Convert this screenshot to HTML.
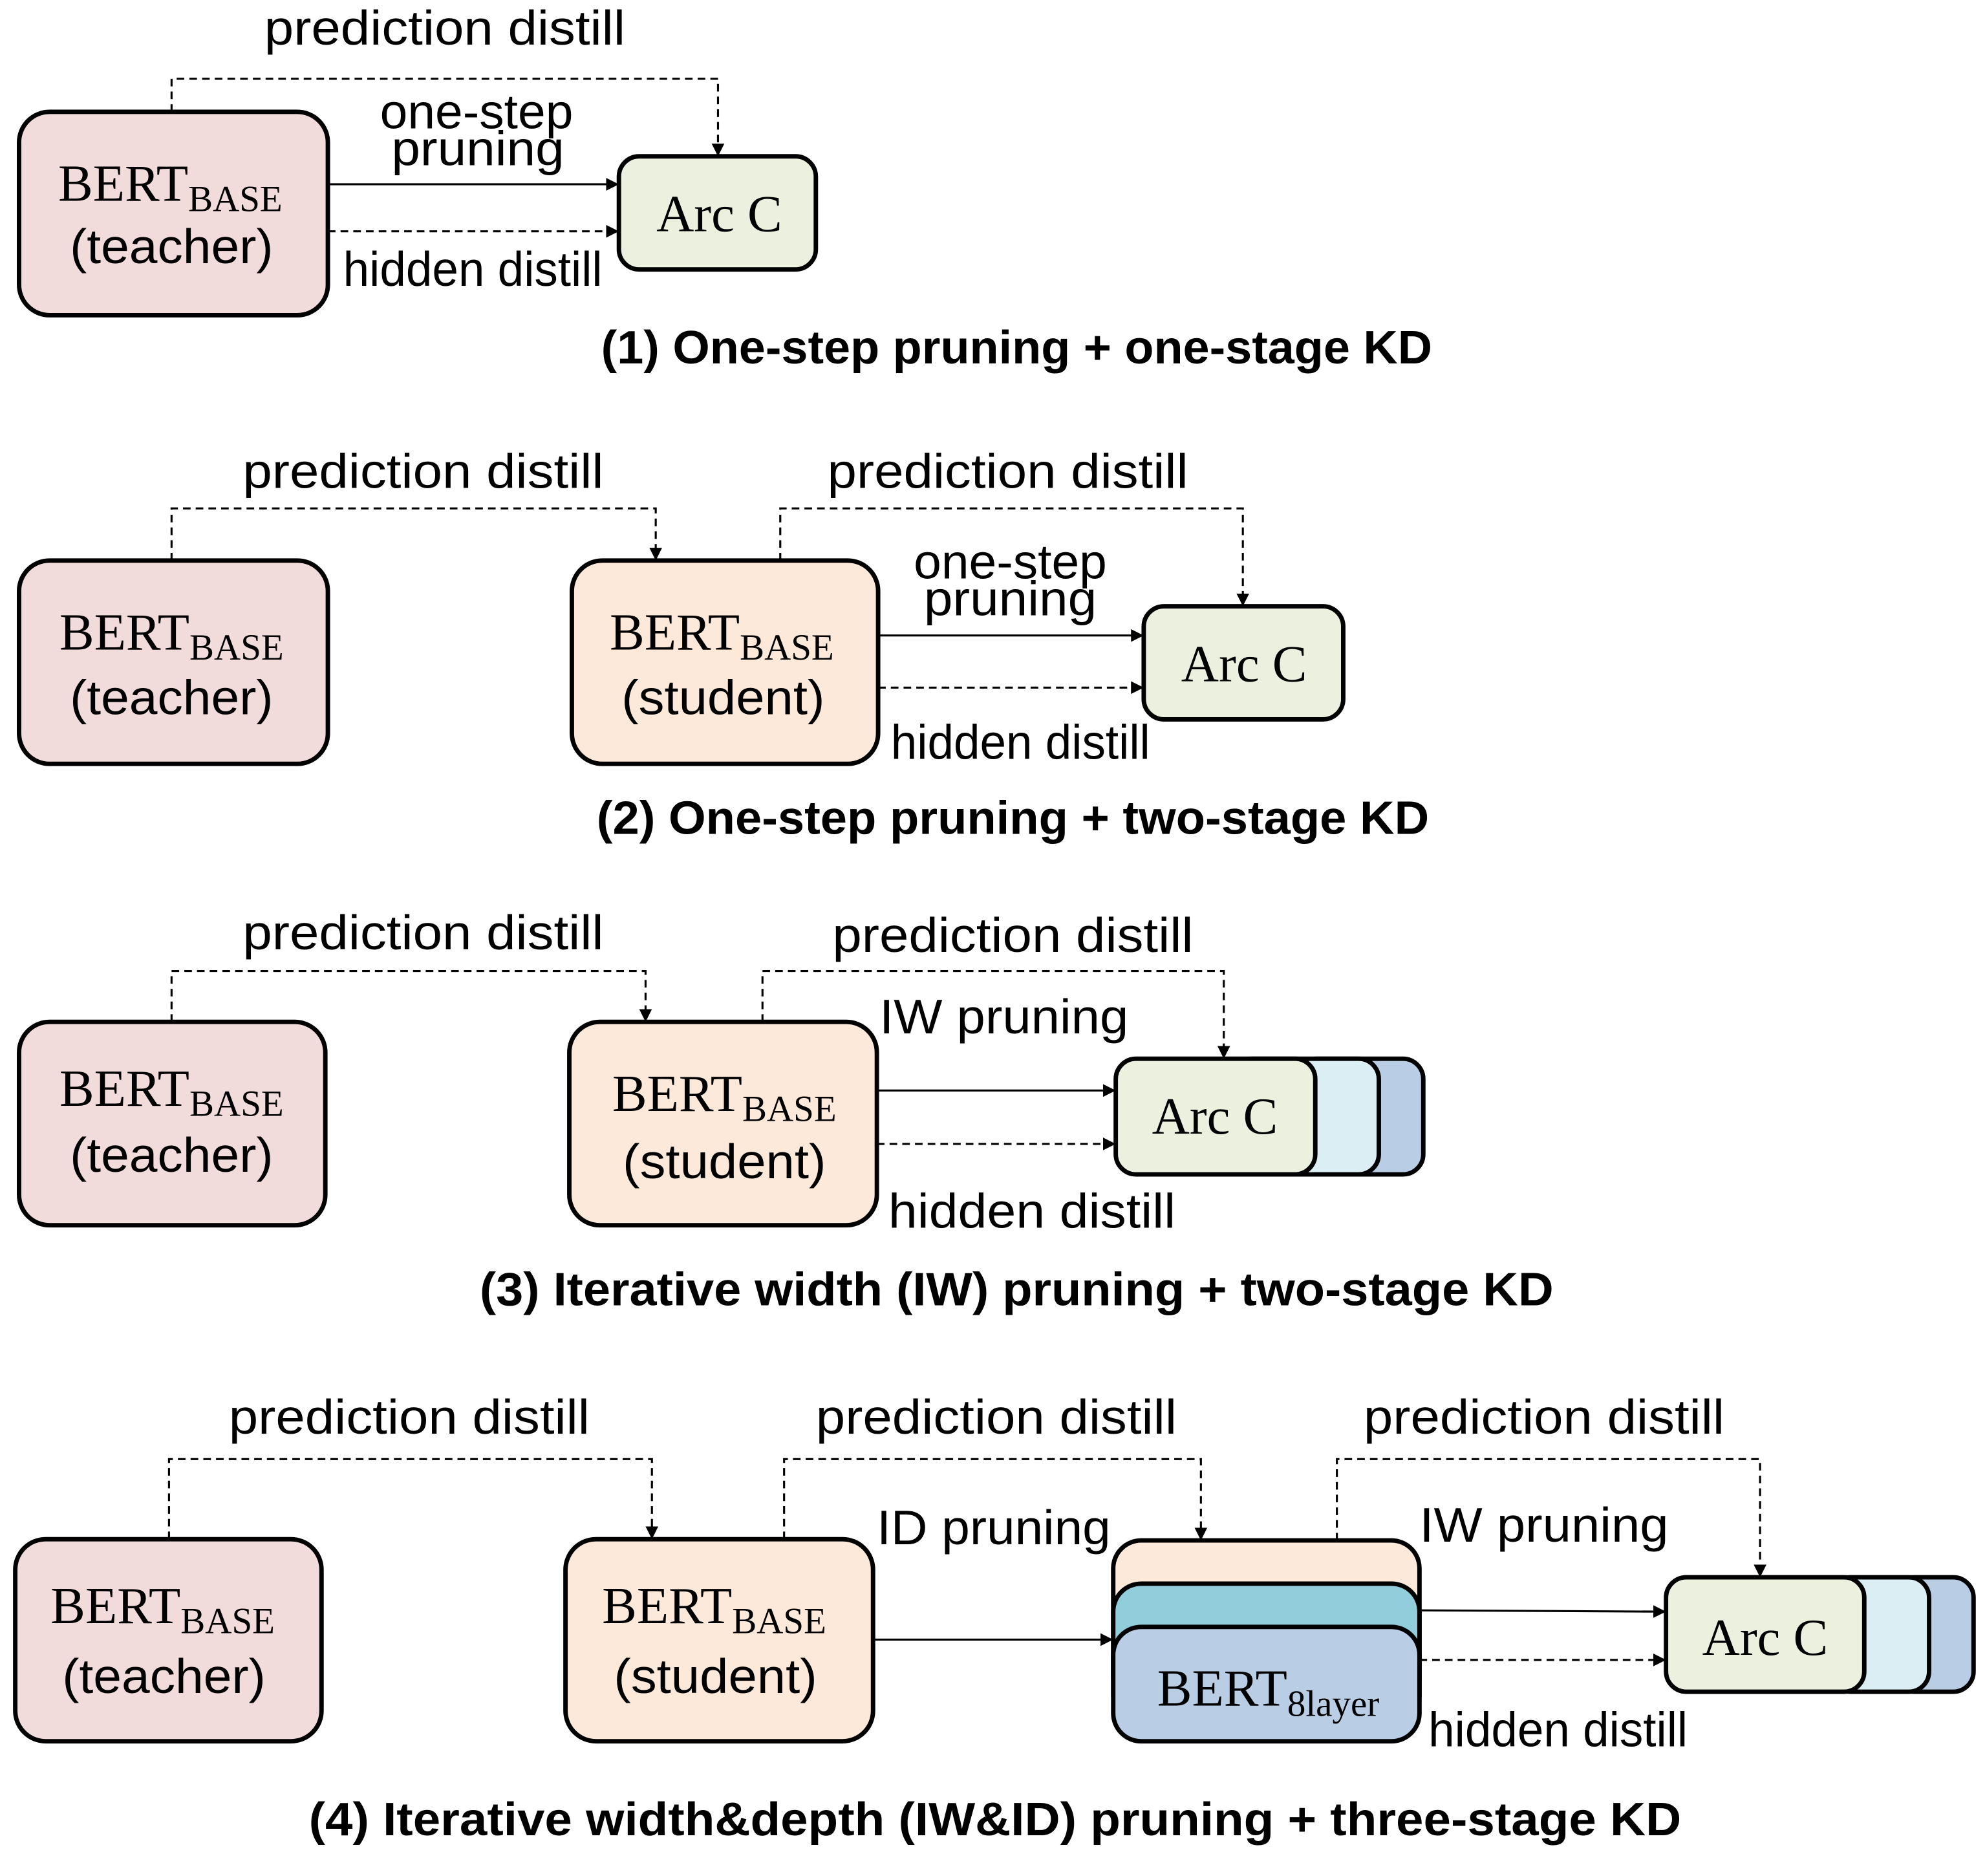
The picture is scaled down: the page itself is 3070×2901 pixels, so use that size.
<!DOCTYPE html>
<html><head><meta charset="utf-8"><style>
html,body{margin:0;padding:0;background:#fff;width:3070px;height:2901px;overflow:hidden}
svg{display:block}
.s{font-family:"Liberation Sans",sans-serif;font-size:38px;fill:#000}
.b{font-family:"Liberation Sans",sans-serif;font-size:37px;font-weight:bold;fill:#000}
.r{font-family:"Liberation Serif",serif;font-size:41px;fill:#000}
.box{stroke:#000;stroke-width:3.5}
.sl{stroke:#000;stroke-width:1.6;fill:none}
.dl{stroke:#000;stroke-width:1.6;fill:none;stroke-dasharray:6,4}
</style></head><body>
<svg width="3070" height="2901" viewBox="0 0 1562 1476" preserveAspectRatio="none" xmlns="http://www.w3.org/2000/svg">
<defs>
<marker id="a" markerWidth="10" markerHeight="10" refX="9" refY="5" orient="auto" markerUnits="userSpaceOnUse"><path d="M0,0 L10,5 L0,10 z" fill="#000"/></marker>
</defs>

<!-- Panel 1 -->
<rect class="box" x="15" y="88" width="243" height="160" rx="24" fill="#f2dcdb"/>
<text class="r" x="134" y="158" text-anchor="middle">BERT<tspan font-size="29" dy="8">BASE</tspan></text>
<text class="s" x="135" y="207" text-anchor="middle" textLength="160" lengthAdjust="spacingAndGlyphs">(teacher)</text>
<rect class="box" x="487" y="123" width="155" height="89" rx="16" fill="#ebf1de"/>
<text class="r" x="566" y="182" text-anchor="middle">Arc C</text>
<path class="sl" d="M258,145 L486,145" marker-end="url(#a)"/>
<path class="dl" d="M258,182 L486,182" marker-end="url(#a)"/>
<path class="dl" d="M135,88 L135,62 L565,62 L565,122" marker-end="url(#a)"/>
<text class="s" x="350" y="35" text-anchor="middle" textLength="284" lengthAdjust="spacingAndGlyphs">prediction distill</text>
<text class="s" x="375" y="101" text-anchor="middle" textLength="152" lengthAdjust="spacingAndGlyphs">one-step</text>
<text class="s" x="376" y="130" text-anchor="middle" textLength="136" lengthAdjust="spacingAndGlyphs">pruning</text>
<text class="s" x="372" y="225" text-anchor="middle" textLength="204" lengthAdjust="spacingAndGlyphs">hidden distill</text>
<text class="b" x="800" y="286" text-anchor="middle" textLength="654" lengthAdjust="spacingAndGlyphs">(1) One-step pruning + one-stage KD</text>

<!-- Panel 2 -->
<rect class="box" x="15" y="441" width="243" height="160" rx="24" fill="#f2dcdb"/>
<text class="r" x="135" y="511" text-anchor="middle">BERT<tspan font-size="29" dy="8">BASE</tspan></text>
<text class="s" x="135" y="562" text-anchor="middle" textLength="160" lengthAdjust="spacingAndGlyphs">(teacher)</text>
<rect class="box" x="450" y="441" width="241" height="160" rx="24" fill="#fde9d9"/>
<text class="r" x="568" y="511" text-anchor="middle">BERT<tspan font-size="29" dy="8">BASE</tspan></text>
<text class="s" x="569" y="562" text-anchor="middle" textLength="160" lengthAdjust="spacingAndGlyphs">(student)</text>
<rect class="box" x="900" y="477" width="157" height="89" rx="16" fill="#ebf1de"/>
<text class="r" x="979" y="536" text-anchor="middle">Arc C</text>
<path class="sl" d="M691,500 L899,500" marker-end="url(#a)"/>
<path class="dl" d="M691,541 L899,541" marker-end="url(#a)"/>
<path class="dl" d="M135,441 L135,400 L516,400 L516,440" marker-end="url(#a)"/>
<path class="dl" d="M614,441 L614,400 L978,400 L978,476" marker-end="url(#a)"/>
<text class="s" x="333" y="384" text-anchor="middle" textLength="284" lengthAdjust="spacingAndGlyphs">prediction distill</text>
<text class="s" x="793" y="384" text-anchor="middle" textLength="284" lengthAdjust="spacingAndGlyphs">prediction distill</text>
<text class="s" x="795" y="455" text-anchor="middle" textLength="152" lengthAdjust="spacingAndGlyphs">one-step</text>
<text class="s" x="795" y="484" text-anchor="middle" textLength="136" lengthAdjust="spacingAndGlyphs">pruning</text>
<text class="s" x="803" y="597" text-anchor="middle" textLength="204" lengthAdjust="spacingAndGlyphs">hidden distill</text>
<text class="b" x="797" y="656" text-anchor="middle" textLength="655" lengthAdjust="spacingAndGlyphs">(2) One-step pruning + two-stage KD</text>

<!-- Panel 3 -->
<rect class="box" x="15" y="804" width="241" height="160" rx="24" fill="#f2dcdb"/>
<text class="r" x="135" y="870" text-anchor="middle">BERT<tspan font-size="29" dy="8">BASE</tspan></text>
<text class="s" x="135" y="922" text-anchor="middle" textLength="160" lengthAdjust="spacingAndGlyphs">(teacher)</text>
<rect class="box" x="448" y="804" width="242" height="160" rx="24" fill="#fde9d9"/>
<text class="r" x="570" y="874" text-anchor="middle">BERT<tspan font-size="29" dy="8">BASE</tspan></text>
<text class="s" x="570" y="927" text-anchor="middle" textLength="160" lengthAdjust="spacingAndGlyphs">(student)</text>
<rect class="box" x="1020" y="833" width="100" height="91" rx="16" fill="#b9cde5"/>
<rect class="box" x="970" y="833" width="115" height="91" rx="16" fill="#dbeef4"/>
<rect class="box" x="878" y="833" width="157" height="91" rx="16" fill="#ebf1de"/>
<text class="r" x="956" y="892" text-anchor="middle">Arc C</text>
<path class="sl" d="M690,858 L877,858" marker-end="url(#a)"/>
<path class="dl" d="M690,900 L877,900" marker-end="url(#a)"/>
<path class="dl" d="M135,804 L135,764 L508,764 L508,803" marker-end="url(#a)"/>
<path class="dl" d="M600,804 L600,764 L963,764 L963,832" marker-end="url(#a)"/>
<text class="s" x="333" y="747" text-anchor="middle" textLength="284" lengthAdjust="spacingAndGlyphs">prediction distill</text>
<text class="s" x="797" y="749" text-anchor="middle" textLength="284" lengthAdjust="spacingAndGlyphs">prediction distill</text>
<text class="s" x="790" y="813" text-anchor="middle" textLength="196" lengthAdjust="spacingAndGlyphs">IW pruning</text>
<text class="s" x="812" y="966" text-anchor="middle" textLength="226" lengthAdjust="spacingAndGlyphs">hidden distill</text>
<text class="b" x="800" y="1027" text-anchor="middle" textLength="845" lengthAdjust="spacingAndGlyphs">(3) Iterative width (IW) pruning + two-stage KD</text>

<!-- Panel 4 -->
<rect class="box" x="12" y="1211" width="241" height="159" rx="24" fill="#f2dcdb"/>
<text class="r" x="128" y="1277" text-anchor="middle">BERT<tspan font-size="29" dy="8">BASE</tspan></text>
<text class="s" x="129" y="1332" text-anchor="middle" textLength="160" lengthAdjust="spacingAndGlyphs">(teacher)</text>
<rect class="box" x="445" y="1211" width="242" height="159" rx="24" fill="#fde9d9"/>
<text class="r" x="562" y="1277" text-anchor="middle">BERT<tspan font-size="29" dy="8">BASE</tspan></text>
<text class="s" x="563" y="1332" text-anchor="middle" textLength="160" lengthAdjust="spacingAndGlyphs">(student)</text>
<rect class="box" x="876" y="1212" width="241" height="130" rx="22" fill="#fde9d9"/>
<rect class="box" x="876" y="1246" width="241" height="110" rx="22" fill="#92cddc"/>
<rect class="box" x="876" y="1280" width="241" height="90" rx="22" fill="#b9cde5"/>
<text class="r" x="998" y="1342" text-anchor="middle">BERT<tspan font-size="29" dy="8">8layer</tspan></text>
<path class="sl" d="M687,1290 L875,1290" marker-end="url(#a)"/>
<rect class="box" x="1490" y="1241" width="63" height="90" rx="16" fill="#b9cde5"/>
<rect class="box" x="1440" y="1241" width="78" height="90" rx="16" fill="#dbeef4"/>
<rect class="box" x="1311" y="1241" width="156" height="90" rx="16" fill="#ebf1de"/>
<text class="r" x="1389" y="1302" text-anchor="middle">Arc C</text>
<path class="sl" d="M1117,1267 L1310,1268" marker-end="url(#a)"/>
<path class="dl" d="M1117,1306 L1310,1306" marker-end="url(#a)"/>
<path class="dl" d="M133,1211 L133,1148 L513,1148 L513,1210" marker-end="url(#a)"/>
<path class="dl" d="M617,1211 L617,1148 L945,1148 L945,1211" marker-end="url(#a)"/>
<path class="dl" d="M1052,1212 L1052,1148 L1385,1148 L1385,1240" marker-end="url(#a)"/>
<text class="s" x="322" y="1128" text-anchor="middle" textLength="284" lengthAdjust="spacingAndGlyphs">prediction distill</text>
<text class="s" x="784" y="1128" text-anchor="middle" textLength="284" lengthAdjust="spacingAndGlyphs">prediction distill</text>
<text class="s" x="1215" y="1128" text-anchor="middle" textLength="284" lengthAdjust="spacingAndGlyphs">prediction distill</text>
<text class="s" x="782" y="1215" text-anchor="middle" textLength="184" lengthAdjust="spacingAndGlyphs">ID pruning</text>
<text class="s" x="1215" y="1213" text-anchor="middle" textLength="196" lengthAdjust="spacingAndGlyphs">IW pruning</text>
<text class="s" x="1226" y="1374" text-anchor="middle" textLength="204" lengthAdjust="spacingAndGlyphs">hidden distill</text>
<text class="b" x="783" y="1444" text-anchor="middle" textLength="1080" lengthAdjust="spacingAndGlyphs">(4) Iterative width&amp;depth (IW&amp;ID) pruning + three-stage KD</text>
</svg>
</body></html>
